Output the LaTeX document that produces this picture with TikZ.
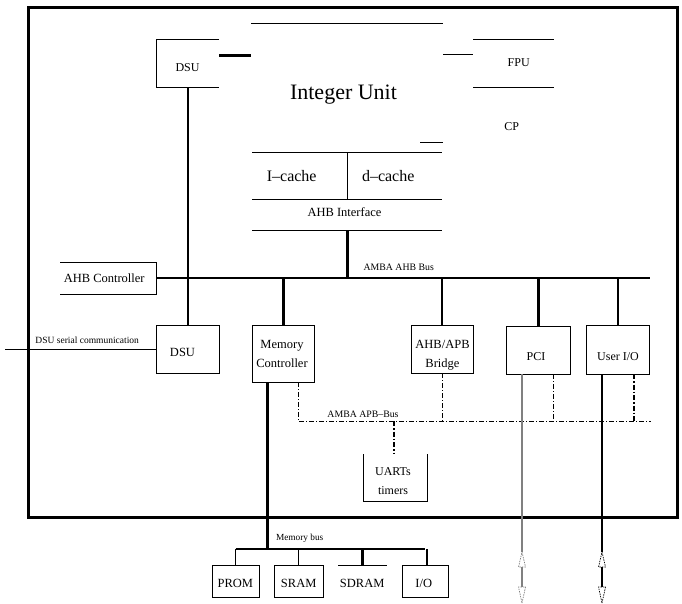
\documentclass[tikz,border=0pt]{standalone}
\usepackage{fontspec}
\setmainfont{Liberation Serif}
\begin{document}
\begin{tikzpicture}[x=1pt,y=-1pt,
  blk/.style={shape=rectangle, inner sep=0pt, outer sep=0pt},
  edge/.style={line width=0.9pt},
  full/.style={blk, draw, line width=0.9pt},
  txt/.style={anchor=base, inner sep=0pt, font=\fontsize{12.5}{19}\selectfont, align=center},
  tiny/.style={anchor=base, inner sep=0pt, font=\fontsize{9.5}{11}\selectfont},
  heavy/.style={line width=3pt},
  medium/.style={line width=2pt},
  light/.style={line width=1.3pt},
  apb/.style={line width=0.8pt, dash pattern=on 5pt off 2pt on 1pt off 2pt},
  apbheavy/.style={line width=1.8pt, dash pattern=on 5pt off 2pt on 1.5pt off 2pt},
  tip/.style={line width=0.7pt, dash pattern=on 1.5pt off 1pt}]
\useasboundingbox (0,0) rectangle (682,603);

% chip outline
\draw[line width=3pt] (28,7) rectangle (677,517);

% processor core
\node[blk, minimum width=63pt, minimum height=48pt] (dsuA) at (187.5,63) {};
\draw[edge] (dsuA.north east) -- (dsuA.north west) -- (dsuA.south west) -- (dsuA.south east);
\node[txt, font=\fontsize{12}{14}\selectfont] (dsuAt) at (187.5,71.7) {DSU};

\node[blk, minimum width=192pt, minimum height=129pt] (iu) at (347,87.5) {};
\draw[edge] (iu.north west) -- (iu.north east);
\node[txt, font=\fontsize{22}{26}\selectfont] (iut) at (343.5,99) {Integer Unit};

\node[blk, minimum width=81pt, minimum height=48pt] (fpu) at (513.5,63) {};
\draw[edge] (fpu.north west) -- (fpu.north east);
\draw[edge] (fpu.south west) -- (fpu.south east);
\node[txt, font=\fontsize{12}{14}\selectfont] (fput) at (518.7,66.7) {FPU};

\node[blk, minimum width=81pt, minimum height=38pt] (cp) at (513.5,122) {};
\node[txt, font=\fontsize{12}{14}\selectfont] (cpt) at (511.7,130.7) {CP};
\draw[edge] (420,142) -- (iu.east |- 0,142);

\node[blk, minimum width=95pt, minimum height=47pt] (icache) at (299.5,175.5) {};
\node[blk, minimum width=95pt, minimum height=47pt] (dcache) at (394.5,175.5) {};
\draw[edge] (icache.north west) -- (dcache.north east);
\draw[edge] (icache.north east) -- (icache.south east);
\draw[edge] (icache.south west) -- (dcache.south east);
\node[txt, font=\fontsize{16}{18}\selectfont] (icachet) at (291.7,181.7) {I--cache};
\node[txt, font=\fontsize{16}{18}\selectfont] (dcachet) at (388.2,181.7) {d--cache};

\node[blk, minimum width=190pt, minimum height=31pt] (ahbif) at (347,214.5) {};
\draw[edge] (ahbif.south west) -- (ahbif.south east);
\node[txt, font=\fontsize{12.5}{14}\selectfont] (ahbift) at (344.5,216) {AHB Interface};

\draw[heavy] (dsuA.east |- 0,55) -- (iu.west |- 0,55);
\draw[line width=1pt] (iu.east |- 0,54) -- (fpu.west |- 0,54);

% AHB bus
\node[blk, minimum width=96pt, minimum height=32pt] (ahbc) at (108,278) {};
\draw[edge] (ahbc.north west) -- (ahbc.north east) -- (ahbc.south east) -- (ahbc.south west);
\node[txt] (ahbct) at (104.2,282.7) {AHB Controller};
\coordinate (busEnd) at (650,278);
\draw[line width=2.4pt] (ahbc.east) -- (busEnd);
\node[tiny, font=\fontsize{9.8}{11}\selectfont] (ahbbust) at (398.7,270.7) {AMBA AHB Bus};
\draw[heavy] (ahbif.south -| 347,0) -- (347,278);

% AHB slaves and masters
\node[blk, minimum width=63pt, minimum height=48pt] (dsuB) at (187.5,349) {};
\draw[edge] (dsuB.north east) -- (dsuB.north west) -- (dsuB.south west) -- (dsuB.south east) -- cycle;
\node[txt] (dsuBt) at (182.5,356.7) {DSU};
\draw[light] (dsuA.south -| 188,0) -- (dsuB.north -| 188,0);
\coordinate (serialIn) at (5,349);
\draw[line width=1pt] (serialIn) -- (dsuB.west);
\node[tiny] (serialt) at (87.2,343.3) {DSU serial communication};

\node[full, minimum width=62pt, minimum height=57pt] (memctl) at (283,353.5) {};
\node[txt] (memctlt) at (282,367.3) {Memory\\Controller};
\draw[heavy] (memctl.north |- busEnd) -- (memctl.north);

\node[full, minimum width=62pt, minimum height=48pt] (bridge) at (442,349) {};
\node[txt] (bridget) at (442.5,367.3) {AHB/APB\\Bridge};
\draw[medium] (bridge.north |- busEnd) -- (bridge.north);

\node[blk, minimum width=64pt, minimum height=48pt] (pci) at (538,350) {};
\draw[edge] (pci.north west) -- (pci.north east) -- (pci.south east) -- (pci.south west) -- cycle;
\node[txt, font=\fontsize{12}{14}\selectfont] (pcit) at (536,360) {PCI};
\draw[heavy] (pci.north |- busEnd) -- (pci.north);

\node[full, minimum width=63pt, minimum height=49pt] (uio) at (617.5,349.5) {};
\node[txt, font=\fontsize{12}{14}\selectfont] (uiot) at (618,360) {User I/O};
\draw[medium] (uio.north |- busEnd) -- (uio.north);

% APB bus
\coordinate (apbStart) at (298,421);
\coordinate (apbEnd) at (651,421);
\draw[apb] (memctl.south -| apbStart) -- (apbStart) -- (apbEnd);
\node[tiny, font=\fontsize{9.8}{11}\selectfont] (apbbust) at (363,417.3) {AMBA APB--Bus};
\draw[apb] (bridge.south) -- (bridge.south |- apbEnd);
\draw[apb] (pci.south -| 553,0) -- (553,421);
\draw[apbheavy] (uio.south -| 634,0) -- (634,421);

\node[blk, minimum width=64pt, minimum height=47pt] (uarts) at (395,477.5) {};
\draw[edge] (uarts.north west) -- (uarts.south west) -- (uarts.south east) -- (uarts.north east);
\node[txt, font=\fontsize{12}{19}\selectfont] (uartst) at (393,494) {UARTs\\timers};
\draw[apbheavy] (394,421) -- (uarts.north -| 394,0);

% external PCI and user I/O lines
\coordinate (pciOut) at (522,552);
\coordinate (uioOut) at (602,552);
\draw[gray, light] (pci.south -| pciOut) -- (pciOut);
\draw[medium] (uio.south -| uioOut) -- (uioOut);
\draw[gray, tip] (pciOut) -- ++(3.5,15) -- ++(-7,0) -- cycle;
\draw[gray, light] (522,567) -- (522,587);
\draw[gray, tip] (522,603) -- ++(3.5,-16) -- ++(-7,0) -- cycle;
\draw[tip] (uioOut) -- ++(3.5,15) -- ++(-7,0) -- cycle;
\draw[medium] (602,567) -- (602,587);
\draw[tip] (602,603) -- ++(3.5,-16) -- ++(-7,0) -- cycle;

% memory bus
\coordinate (mbus) at (267,549);
\draw[heavy] (memctl.south -| mbus) -- (mbus);
\node[tiny, font=\fontsize{9.3}{11}\selectfont] (mbust) at (299.7,540.7) {Memory bus};

\node[full, minimum width=47pt, minimum height=32pt] (prom) at (235.5,581) {};
\node[full, minimum width=49pt, minimum height=32pt] (sram) at (298.5,581) {};
\node[blk, minimum width=49pt, minimum height=32pt] (sdram) at (362.5,581) {};
\draw[edge] (sdram.north west) -- (sdram.north east);
\node[full, minimum width=46pt, minimum height=32pt] (io) at (425,581) {};
\node[txt] (promt) at (235.3,587.3) {PROM};
\node[txt] (sramt) at (298.7,587.3) {SRAM};
\node[txt] (sdramt) at (362.2,587.3) {SDRAM};
\node[txt] (iot) at (423.8,587.3) {I/O};

\draw[line width=1.8pt] (prom.north |- mbus) -- (io.north |- mbus);
\draw[light] (prom.north |- mbus) -- (prom.north);
\draw[light] (sram.north |- mbus) -- (sram.north);
\draw[line width=2.5pt] (sdram.north |- mbus) -- (sdram.north);
\draw[medium] (427,549) -- (427,565);
\end{tikzpicture}
\end{document}
